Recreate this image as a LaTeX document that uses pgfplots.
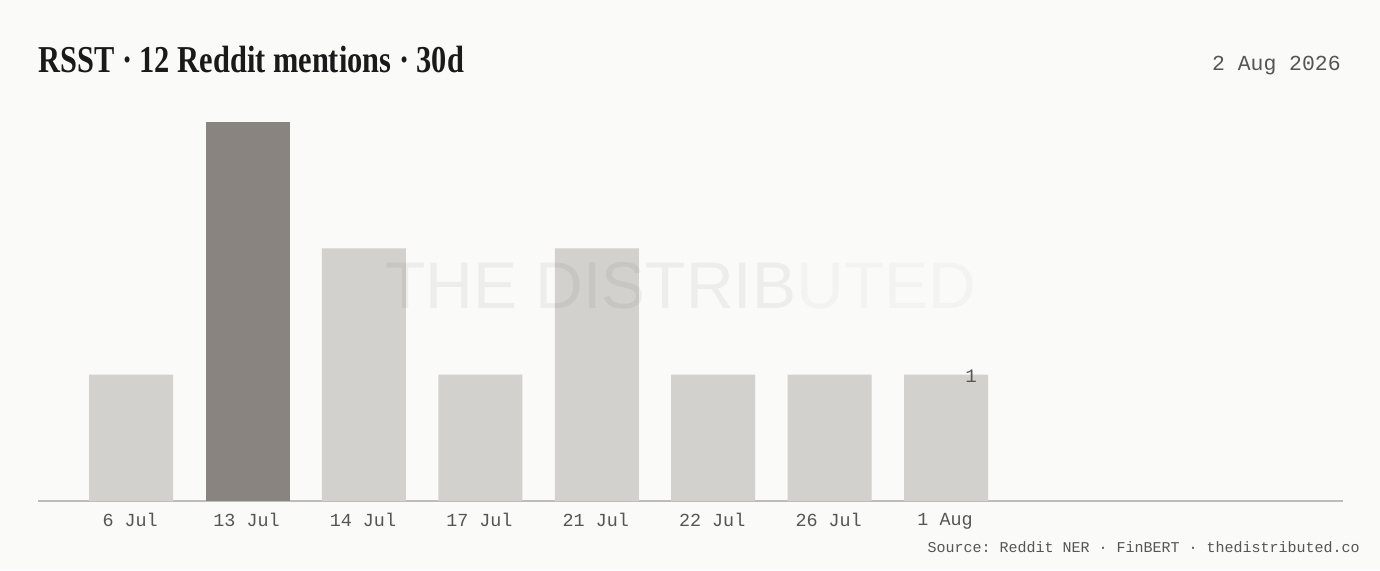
\documentclass[border=0pt]{standalone}
\usepackage{fontspec}
\setmainfont{Liberation Serif}
\setmonofont{Liberation Mono}
\newfontfamily\wmfont{Liberation Sans}
\usepackage{graphicx}
\usepackage{pgfplots}
\pgfplotsset{compat=1.18}
\definecolor{bgcol}{HTML}{FAFAF8}
\definecolor{barlight}{HTML}{D3D1CD}
\definecolor{bardark}{HTML}{898480}
\definecolor{basecol}{HTML}{BDBCBA}
\definecolor{txtgray}{HTML}{555555}
\definecolor{titlecol}{HTML}{1A1A1A}

\begin{document}
\begin{tikzpicture}
  % canvas: 1 px = 0.5 pt
  \fill[bgcol] (0,0) rectangle (690pt,285pt);
  \path[use as bounding box] (0,0) rectangle (690pt,285pt);

  \begin{axis}[
      at={(19pt,34.5pt)}, anchor=south west,
      scale only axis,
      width=652.5pt, height=189.5pt,
      ymin=0, ymax=3,
      xmin=-0.8, xmax=10.41,
      axis x line=bottom,
      axis y line=none,
      x axis line style={-, draw=basecol, line width=0.8pt},
      xtick={0,1,2,3,4,5,6,7},
      xticklabels={6 Jul,13 Jul,14 Jul,17 Jul,21 Jul,22 Jul,26 Jul,1 Aug},
      major tick length=0pt,
      xticklabel style={font=\ttfamily\fontsize{9.2}{10}\selectfont, text=txtgray, yshift=-2.6pt, xshift=-0.5pt},
      ytick=\empty,
      ybar, bar width=42pt, bar shift=0pt,
      clip=false,
    ]
    \addplot[fill=barlight, draw=none] coordinates {(0,1) (2,2) (3,1) (4,2) (5,1) (6,1) (7,1)};
    \addplot[fill=bardark, draw=none] coordinates {(1,3)};
    \node[font=\ttfamily\fontsize{9.5}{10}\selectfont, text=txtgray, yshift=-1pt] at (axis cs:7.215,1) {1};
  \end{axis}

  % watermark, fading towards the right
  \node[anchor=base west, font=\wmfont\fontsize{33}{33}\selectfont, text=black, text opacity=0.05, inner sep=0pt] (wm) at (192.5pt,131pt) {THE DISTRIB};
  \node[anchor=base west, font=\wmfont\fontsize{33}{33}\selectfont, text=black, text opacity=0.028, inner sep=0pt] at (wm.base east) {UTED};

  % title and texts
  \node[anchor=base west, inner sep=0pt, font=\bfseries\fontsize{19}{20}\selectfont, text=titlecol] at (19pt,249pt) {\scalebox{0.8}[1]{RSST · 12 Reddit mentions · 30d}};
  \node[anchor=base east, inner sep=0pt, font=\ttfamily\fontsize{10.7}{11}\selectfont, text=txtgray] at (670.5pt,250pt) {2 Aug 2026};
  \node[anchor=base east, inner sep=0pt, font=\ttfamily\fontsize{7.5}{8}\selectfont, text=txtgray] at (680pt,9pt) {Source: Reddit NER · FinBERT · thedistributed.co};
\end{tikzpicture}
\end{document}
